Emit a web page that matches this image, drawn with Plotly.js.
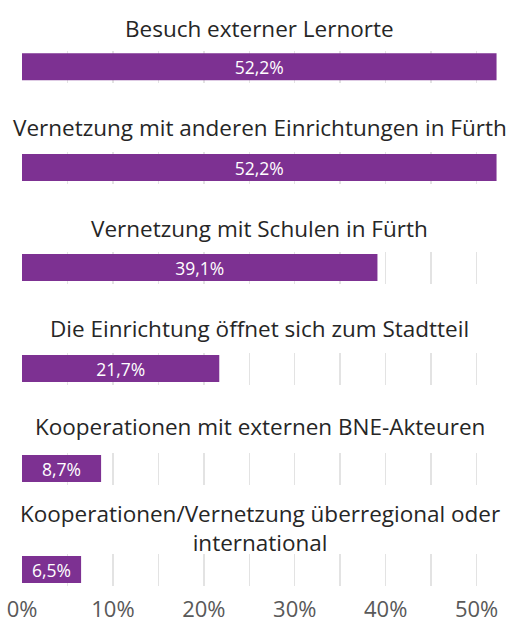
<!DOCTYPE html>
<html>
<head>
<meta charset="utf-8">
<script src="https://cdn.plot.ly/plotly-3.0.1.min.js"></script>
<style>html,body{margin:0;padding:0;background:#fff;}#chart{width:511px;height:619px;}</style>
</head>
<body>
<div id="chart"></div>
<script>
// Data
var categories = [
  "Besuch externer Lernorte",
  "Vernetzung mit anderen Einrichtungen in Fürth",
  "Vernetzung mit Schulen in Fürth",
  "Die Einrichtung öffnet sich zum Stadtteil",
  "Kooperationen mit externen BNE-Akteuren",
  "Kooperationen/Vernetzung überregional oder<br>international"
];
var values = [0.522, 0.522, 0.391, 0.217, 0.087, 0.065];
var tickValues = [0, 0.1, 0.2, 0.3, 0.4, 0.5];
var tickLabels = ["0%", "10%", "20%", "30%", "40%", "50%"];

// Layout geometry (pixels)
var W = 511, H = 619;
var rowCenters = [66.7, 167.5, 267.5, 368.5, 468.5, 569.5];
var rowHalf = 16;
var titleCenters = [29, 128, 228, 328, 427, 528];

var font = "'Open Sans', 'Noto Sans', sans-serif";
var barColor = "#7D3192";

var traces = [];
var layout = {
  width: W, height: H,
  margin: {l: 22, r: 14, t: 0, b: 0},
  paper_bgcolor: "#fff", plot_bgcolor: "#fff",
  separators: ",.",
  showlegend: false,
  font: {family: font, color: "#262626"},
  annotations: [],
  xaxis: {
    range: [0, 0.5225],
    anchor: "y" + categories.length,
    tickmode: "array",
    tickvals: tickValues,
    ticktext: tickLabels,
    showgrid: true,
    gridcolor: "#e3e3e3",
    gridwidth: 1.5,
    minor: {dtick: 0.05, tick0: 0, showgrid: true, gridcolor: "#e3e3e3", gridwidth: 1.5},
    zeroline: false,
    showline: false,
    ticks: "",
    ticklabelstandoff: 8,
    tickfont: {family: font, size: 22, color: "#595959"},
    fixedrange: true
  }
};

for (var i = 0; i < categories.length; i++) {
  var yName = "y" + (i === 0 ? "" : (i + 1));
  var yKey = "yaxis" + (i === 0 ? "" : (i + 1));
  traces.push({
    type: "bar",
    orientation: "h",
    x: [values[i]],
    y: [0],
    xaxis: "x",
    yaxis: yName,
    width: 0.84,
    marker: {color: barColor},
    text: [values[i]],
    texttemplate: "%{x:.1%}",
    textposition: "inside",
    insidetextanchor: "middle",
    constraintext: "none",
    textfont: {family: font, size: 17.5, color: "#ffffff"},
    hoverinfo: "skip"
  });
  layout[yKey] = {
    domain: [(H - (rowCenters[i] + rowHalf)) / H, (H - (rowCenters[i] - rowHalf)) / H],
    range: [-0.5, 0.5],
    showticklabels: false,
    showgrid: false,
    zeroline: false,
    showline: false,
    ticks: "",
    anchor: "x",
    fixedrange: true
  };
  layout.annotations.push({
    text: categories[i],
    xref: "paper", yref: "paper",
    x: 0.5, y: (H - titleCenters[i]) / H,
    xanchor: "center", yanchor: "middle",
    showarrow: false,
    align: "center",
    font: {family: font, size: 22.5, color: "#262626"}
  });
}

Plotly.newPlot("chart", traces, layout, {displayModeBar: false, staticPlot: true});
</script>
</body>
</html>
